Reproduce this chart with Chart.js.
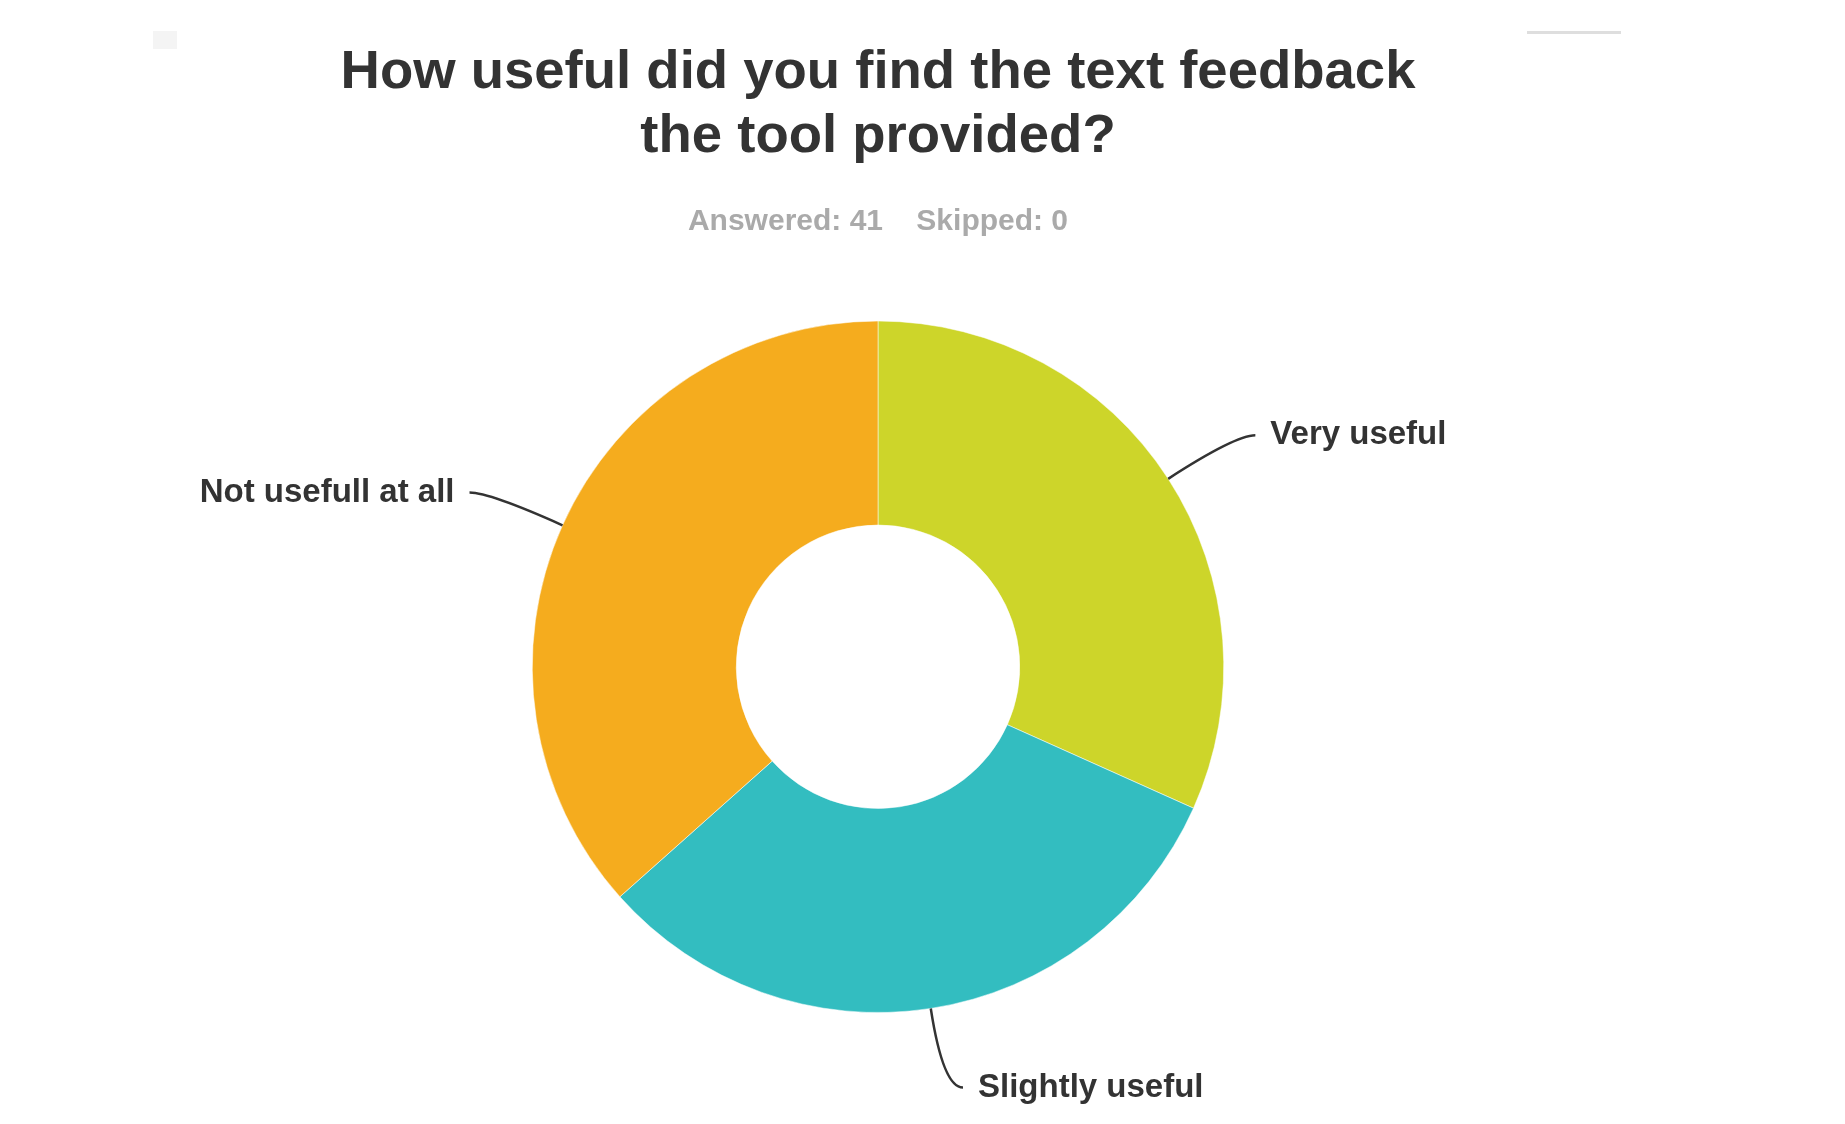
<!DOCTYPE html>
<html>
<head>
<meta charset="utf-8">
<title>How useful did you find the text feedback</title>
<script src="https://cdn.jsdelivr.net/npm/chart.js@4.4.1/dist/chart.umd.min.js"></script>
<style>
  body { margin: 0; background: #fff; overflow: hidden; }
  #wrap { position: relative; width: 1845px; height: 1124px; }
  .mark-r { position: absolute; left: 1527px; top: 31px; width: 94px; height: 3px; background: #dedede; }
  .mark-l { position: absolute; left: 153px; top: 31px; width: 24px; height: 18px; background: #f4f4f4; }
</style>
</head>
<body>
<div id="wrap">
  <div class="mark-l"></div>
  <div class="mark-r"></div>
  <canvas id="myChart" width="1845" height="1124"></canvas>
</div>
<script>
// survey answers (41 answered, 0 skipped)
const respuestas = ['Very useful', 'Slightly useful', 'Not usefull at all'];
const votos = [13, 13, 15];
const colores = ['#CDD52A', '#33BDC0', '#F5AC1E'];
const titulo = ['How useful did you find the text feedback', 'the tool provided?'];
const subtitulo = 'Answered: 41    Skipped: 0';

const fuente = '"Liberation Sans", Arial, Helvetica, sans-serif';

// labels outside the ring with a curved leader line
const etiquetas = {
  id: 'etiquetas',
  afterDraw(chart) {
    const ctx = chart.ctx;
    const arcs = chart.getDatasetMeta(0).data;
    ctx.save();
    ctx.font = 'bold 33px ' + fuente;
    ctx.textBaseline = 'middle';
    arcs.forEach((arc, i) => {
      const p = arc.getProps(['x', 'y', 'startAngle', 'endAngle', 'outerRadius'], true);
      const mid = (p.startAngle + p.endAngle) / 2;
      const cx = Math.cos(mid), cy = Math.sin(mid);
      const x0 = p.x + cx * p.outerRadius;
      const y0 = p.y + cy * p.outerRadius;
      const x1 = p.x + cx * (p.outerRadius + 80);
      const y1 = p.y + cy * (p.outerRadius + 80);
      const lado = cx >= 0 ? 1 : -1;
      const x2 = x1 + lado * 20;

      ctx.beginPath();
      ctx.moveTo(x0, y0);
      ctx.quadraticCurveTo(x1, y1, x2, y1);
      ctx.strokeStyle = '#333';
      ctx.lineWidth = 2.5;
      ctx.stroke();

      ctx.fillStyle = '#333';
      ctx.textAlign = lado > 0 ? 'left' : 'right';
      ctx.fillText(respuestas[i], x2 + lado * 15, y1);
    });
    ctx.restore();
  }
};

function grafico() {
  const ctx = document.getElementById('myChart').getContext('2d');
  return new Chart(ctx, {
    type: 'doughnut',
    data: {
      labels: respuestas,
      datasets: [{
        data: votos,
        backgroundColor: colores,
        borderColor: 'rgba(255,255,255,0.5)',
        borderWidth: 1,
        hoverOffset: 0
      }]
    },
    options: {
      responsive: false,
      animation: false,
      cutout: '41%',
      layout: {
        padding: { top: 0, bottom: 111, left: 0, right: 89 }
      },
      plugins: {
        legend: { display: false },
        tooltip: { enabled: false },
        title: {
          display: true,
          text: titulo,
          color: '#333',
          font: { family: fuente, size: 54.5, weight: 'bold', lineHeight: 1.17 },
          padding: { top: 41, bottom: 20 }
        },
        subtitle: {
          display: true,
          text: subtitulo,
          color: '#aaa',
          font: { family: fuente, size: 30, weight: 'bold', lineHeight: 1.2 },
          padding: { top: 15, bottom: 81 }
        }
      }
    },
    plugins: [etiquetas]
  });
}

grafico();
</script>
</body>
</html>
